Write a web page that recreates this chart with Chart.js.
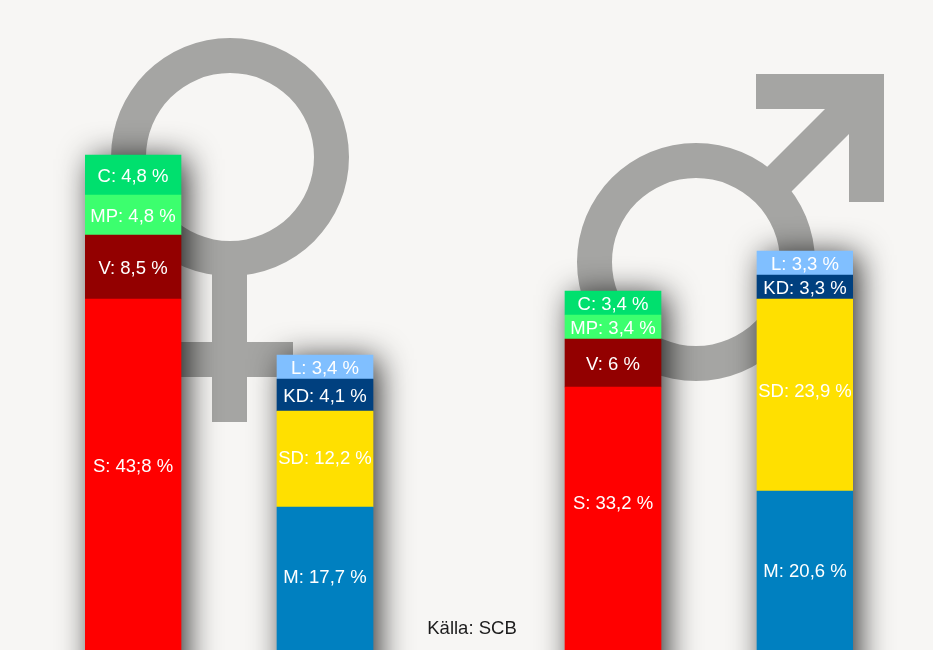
<!DOCTYPE html>
<html lang="sv">
<head>
<meta charset="utf-8">
<title>Källa: SCB</title>
<script src="https://cdn.jsdelivr.net/npm/chart.js@4"></script>
<style>
  html, body { margin: 0; padding: 0; background: #f7f6f4; }
  canvas { display: block; }
</style>
</head>
<body>
<canvas id="chart" width="933" height="650"></canvas>
<script>
// four columns (women left/right, men left/right) on an eight slot axis
const slots = ["Kvinnor V", "", "Kvinnor H", "", "", "Män V", "", "Män H"];

// bar heights, they are whole numbers
const valS  = [44, null, null, null, null, 33, null, null];
const valV  = [8, null, null, null, null, 6, null, null];
const valMP = [5, null, null, null, null, 3, null, null];
const valC  = [5, null, null, null, null, 3, null, null];
const valM  = [null, null, 18, null, null, null, null, 20];
const valSD = [null, null, 12, null, null, null, null, 24];
const valKD = [null, null, 4, null, null, null, null, 3];
const valL  = [null, null, 3, null, null, null, null, 3];

// the printed labels, which do not always agree with the bar heights
const txtS  = ["S: 43;8 %", "", "", "", "", "S: 33,2 %", "", ""];
const txtV  = ["V: 8,5 %", "", "", "", "", "V: 6 %", "", ""];
const txtMP = ["MP: 4,8 %", "", "", "", "", "MP: 3,4 %", "", ""];
const txtC  = ["C: 4,8 %", "", "", "", "", "C: 3,4 %", "", ""];
const txtM  = ["", "", "M: 17,7 %", "", "", "", "", "M: 20,6 %"];
const txtSD = ["", "", "SD: 12,2 %", "", "", "", "", "SD: 23,9 %"];
const txtKD = ["", "", "KD: 4,1 %", "", "", "", "", "KD: 3,3 %"];
const txtL  = ["", "", "L: 3,4 %", "", "", "", "", "L: 3,3 %"];

const sourceText = "Källa: SCB";
const FONT = '18.5px "Liberation Sans", Arial, sans-serif';
const GREY = "#a5a5a3";

function ds(label, data, color, texts, nudge) {
  return { label, data, backgroundColor: color, texts, nudge, stack: "a", borderWidth: 0 };
}

// the gender symbols behind the bars
function drawSymbols(ctx) {
  ctx.fillStyle = GREY;

  // female
  ctx.beginPath();
  ctx.arc(230, 157, 119, 0, Math.PI * 2);
  ctx.arc(230, 157, 84, 0, Math.PI * 2, true);
  ctx.fill();
  ctx.fillRect(212, 270, 35, 152);
  ctx.fillRect(167, 342, 126, 35);

  // male
  ctx.beginPath();
  ctx.arc(696, 262, 119, 0, Math.PI * 2);
  ctx.arc(696, 262, 84, 0, Math.PI * 2, true);
  ctx.fill();
  ctx.beginPath();
  ctx.moveTo(756, 74);
  ctx.lineTo(884, 74);
  ctx.lineTo(884, 202);
  ctx.lineTo(849, 202);
  ctx.lineTo(849, 134);
  ctx.lineTo(788, 195);
  ctx.lineTo(763, 171);
  ctx.lineTo(825, 109);
  ctx.lineTo(756, 109);
  ctx.closePath();
  ctx.fill();
}

const backdrop = {
  id: "backdrop",
  beforeDatasetsDraw(chart) {
    const { ctx, scales } = chart;
    ctx.save();
    drawSymbols(ctx);
    // drop shadow of every column
    slots.forEach((name, i) => {
      if (!name) return;
      let total = 0;
      chart.data.datasets.forEach((d) => { total += d.data[i] || 0; });
      if (!total) return;
      const x = scales.x.getPixelForValue(i);
      const top = scales.y.getPixelForValue(total);
      ctx.save();
      ctx.shadowColor = "rgba(0,0,0,0.85)";
      ctx.shadowBlur = 32;
      ctx.shadowOffsetX = 6;
      ctx.shadowOffsetY = 4;
      ctx.fillStyle = "#777";
      ctx.fillRect(x - 47, top, 94, 700 - top);
      ctx.restore();
    });
    ctx.restore();
  }
};

const barLabels = {
  id: "barLabels",
  afterDatasetsDraw(chart) {
    const { ctx } = chart;
    ctx.save();
    ctx.font = FONT;
    ctx.textAlign = "center";
    ctx.textBaseline = "middle";
    ctx.fillStyle = "#fff";
    chart.data.datasets.forEach((d, n) => {
      chart.getDatasetMeta(n).data.forEach((bar, i) => {
        if (!d.texts[i]) return;
        const mid = (bar.y + bar.base) / 2 + 1.5;
        ctx.fillText(d.texts[i], bar.x, mid + (d.nudge ? d.nudge[i] : 0));
      });
    });
    ctx.fillStyle = "#1c1c1c";
    ctx.fillText(sourceText, 472, 629);
    ctx.restore();
  }
};

new Chart(document.getElementById("chart"), {
  type: "bar",
  data: {
    labels: slots,
    datasets: [
      ds("S", valS, "#ff0000", txtS, [-10, 0, 0, 0, 0, -17, 0, 0]),
      ds("V", valV, "#930000", txtV),
      ds("MP", valMP, "#3cff6e", txtMP),
      ds("C", valC, "#00e06e", txtC),
      ds("M", valM, "#0080c0", txtM, [0, 0, -3, 0, 0, 0, 0, -1]),
      ds("SD", valSD, "#ffe000", txtSD, [0, 0, -2, 0, 0, 0, 0, -5]),
      ds("KD", valKD, "#00407f", txtKD),
      ds("L", valL, "#80bfff", txtL)
    ]
  },
  options: {
    responsive: false,
    animation: false,
    layout: { padding: { left: 85, right: 80, top: 0, bottom: 0 } },
    plugins: { legend: { display: false }, tooltip: { enabled: false } },
    datasets: { bar: { barPercentage: 1, categoryPercentage: 1 } },
    scales: {
      x: { display: false, stacked: true },
      y: { display: false, stacked: true, min: 0.125, max: 81.375 }
    }
  },
  plugins: [backdrop, barLabels]
});
</script>
</body>
</html>
